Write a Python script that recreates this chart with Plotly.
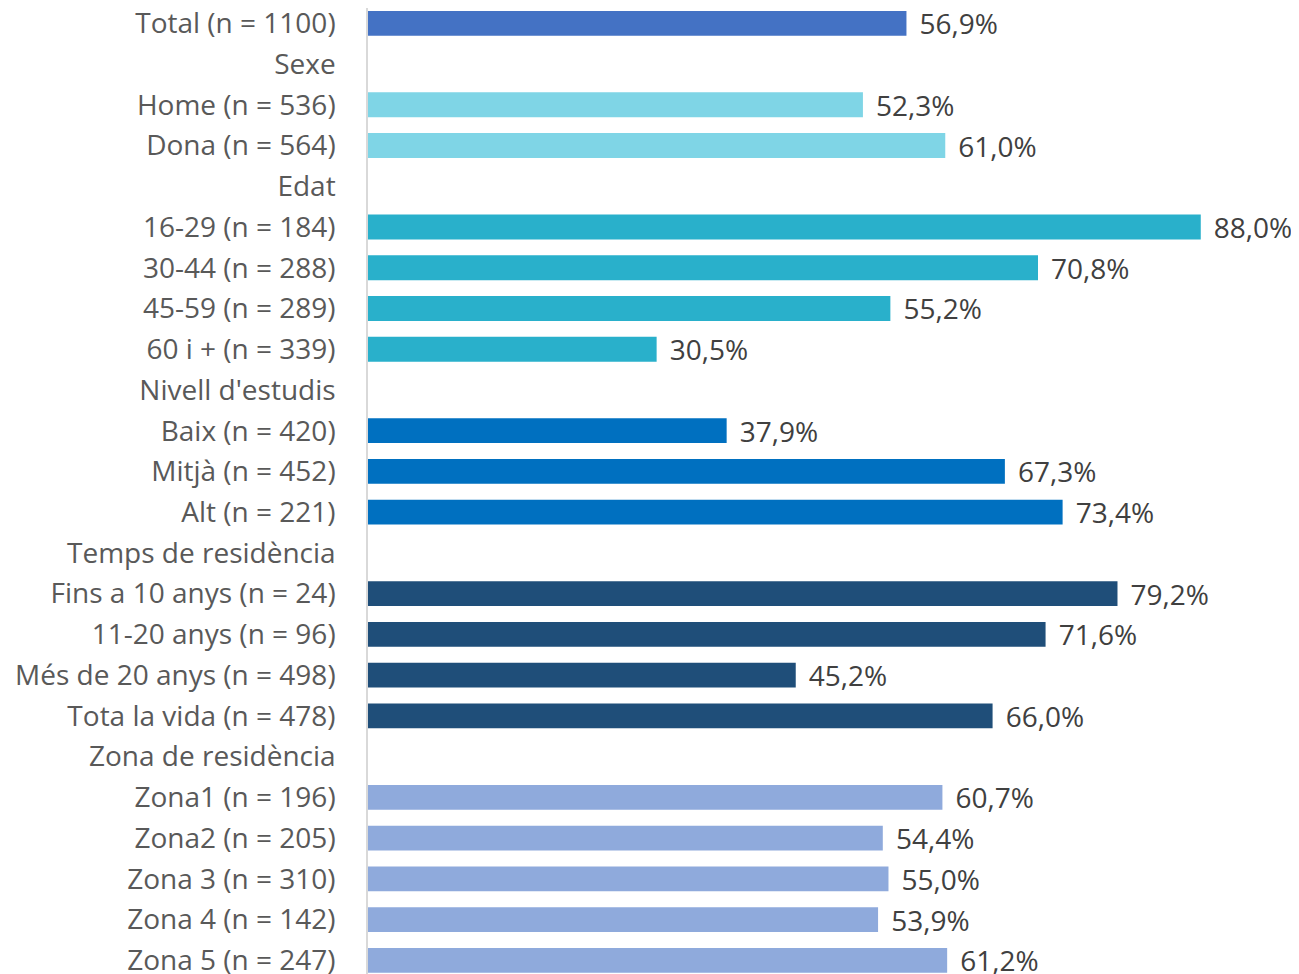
import plotly.graph_objects as go

labels = ["Total (n = 1100)", "Sexe", "Home (n = 536)", "Dona (n = 564)", "Edat",
          "16-29 (n = 184)", "30-44 (n = 288)", "45-59 (n = 289)", "60 i + (n = 339)",
          "Nivell d'estudis", "Baix (n = 420)", "Mitjà (n = 452)", "Alt (n = 221)",
          "Temps de residència", "Fins a 10 anys (n = 24)", "11-20 anys (n = 96)",
          "Més de 20 anys (n = 498)", "Tota la vida (n = 478)", "Zona de residència",
          "Zona1 (n = 196)", "Zona2 (n = 205)", "Zona 3 (n = 310)", "Zona 4 (n = 142)",
          "Zona 5 (n = 247)"]
values = [56.9, None, 52.3, 61.0, None, 88.0, 70.8, 55.2, 30.5, None, 37.9, 67.3, 73.4,
          None, 79.2, 71.6, 45.2, 66.0, None, 60.7, 54.4, 55.0, 53.9, 61.2]
groups = ["total", "sexe", "sexe", "sexe", "edat", "edat", "edat", "edat", "edat",
          "estudis", "estudis", "estudis", "estudis", "temps", "temps", "temps", "temps",
          "temps", "zona", "zona", "zona", "zona", "zona", "zona"]

group_colors = {"total": "#4472C4", "sexe": "#7FD5E6", "edat": "#29B0CB",
                "estudis": "#0070C0", "temps": "#1F4E79", "zona": "#8FAADC"}

ypos = list(range(len(labels)))
colors = [group_colors[g] for g in groups]
texts = ["" if v is None else "\u00a0\u200a" + f"{v:.1f}".replace(".", ",") + "%" for v in values]

FONT = "Open Sans"

fig = go.Figure(go.Bar(
    x=values, y=ypos, orientation="h",
    marker=dict(color=colors, line=dict(width=0)),
    width=0.61,
    text=texts, textposition="outside", constraintext="none",
    textfont=dict(family=FONT, size=28, color="#404040"),
    cliponaxis=False,
    hoverinfo="skip",
))

fig.update_layout(
    width=1291, height=966,
    margin=dict(l=360, r=0, t=0, b=0, pad=0, autoexpand=False),
    paper_bgcolor="white", plot_bgcolor="white",
    showlegend=False,
    uniformtext=dict(mode=False),
    xaxis=dict(range=[0, 98.38], visible=False, fixedrange=True, automargin=False),
    yaxis=dict(range=[23.336, -0.3756], tickmode="array", tickvals=ypos, ticktext=labels,
               ticks="", showgrid=False, zeroline=False, automargin=False,
               showline=True, linecolor="#D9D9D9", linewidth=1.5,
               tickfont=dict(family=FONT, size=28, color="#595959"),
               ticklabeloverflow="allow",
               ticklabelstandoff=25),
)

fig.write_html("out.html")
